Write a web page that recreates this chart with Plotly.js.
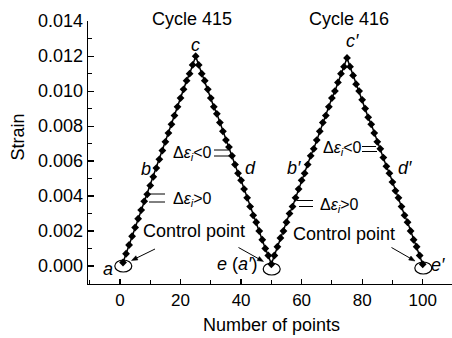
<!DOCTYPE html>
<html>
<head>
<meta charset="utf-8">
<script src="https://cdn.plot.ly/plotly-3.0.1.min.js"></script>
<style>html,body{margin:0;padding:0;background:#fff;}#chart{width:452px;height:338px;}</style>
</head>
<body>
<div id="chart"></div>
<script>
// Point index (Number of points)
const pointIndex = Array.from({length: 100}, (_, i) => i + 1);

// Strain, cycle 415 (points 1-50)
const strainCycle415 = [
  0.0002, 0.0007, 0.0012, 0.0017, 0.0022, 0.0027, 0.0032, 0.0037, 0.0041, 0.0046,
  0.0051, 0.0056, 0.0061, 0.0066, 0.0071, 0.0076, 0.0081, 0.0086, 0.0091, 0.0096,
  0.0101, 0.0106, 0.0110, 0.0115, 0.0120,
  0.0115, 0.0110, 0.0106, 0.0101, 0.0096, 0.0091, 0.0087, 0.0082, 0.0077, 0.0072,
  0.0068, 0.0063, 0.0058, 0.0053, 0.0049, 0.0044, 0.0039, 0.0034, 0.0029, 0.0025,
  0.0020, 0.0015, 0.0010, 0.0006, 0.0001
];
// Strain, cycle 416 (points 51-100)
const strainCycle416 = [
  0.0006, 0.0011, 0.0016, 0.0020, 0.0025, 0.0030, 0.0034, 0.0039, 0.0044, 0.0049,
  0.0053, 0.0058, 0.0063, 0.0067, 0.0072, 0.0077, 0.0082, 0.0086, 0.0091, 0.0096,
  0.0100, 0.0105, 0.0110, 0.0114, 0.0119,
  0.0114, 0.0109, 0.0104, 0.0100, 0.0095, 0.0090, 0.0085, 0.0081, 0.0076, 0.0071,
  0.0067, 0.0062, 0.0057, 0.0053, 0.0048, 0.0043, 0.0039, 0.0034, 0.0029, 0.0025,
  0.0020, 0.0015, 0.0011, 0.0006, 0.0001
];
const strain = strainCycle415.concat(strainCycle416);

const xTickVals = [0, 20, 40, 60, 80, 100];
const yTickVals = [0.000, 0.002, 0.004, 0.006, 0.008, 0.010, 0.012, 0.014];

// ---- layout geometry (pixels) ----
const W = 452, H = 338;
const M = {l: 88, r: 0, t: 21, b: 54};
const PW = W - M.l - M.r, PH = H - M.t - M.b;
const px = x => (x - M.l) / PW;          // pixel -> paper
const py = y => (H - M.b - y) / PH;

const FONT = 'Liberation Sans, Arial, sans-serif';

function txt(text, x, y, size, extra) {
  return Object.assign({
    text: text, xref: 'paper', yref: 'paper', x: px(x), y: py(y),
    xanchor: 'center', yanchor: 'middle', showarrow: false,
    font: {family: FONT, size: size || 18, color: '#000'}
  }, extra || {});
}
const deltaNeg = 'Δ<i>ε</i><sub><i>i</i></sub>&lt;0';
const deltaPos = 'Δ<i>ε</i><sub><i>i</i></sub>&gt;0';

const annotations = [
  txt('Cycle 415', 191.5, 18.5, 18),
  txt('Cycle 416', 349, 18.5, 18),
  txt('<i>c</i>', 195, 45, 18),
  txt('<i>c\u2032</i>', 352, 41, 18),
  txt('<i>b</i>', 146, 169, 18),
  txt('<i>d</i>', 250, 168, 18),
  txt('<i>b\u2032</i>', 294, 168, 18),
  txt('<i>d\u2032</i>', 405, 168, 18),
  txt('<i>a</i>', 108, 269, 18),
  txt('<i>e</i> (<i>a\u2032</i>)', 237, 264, 18),
  txt('<i>e\u2032</i>', 438, 265, 18),
  txt('Control point', 194, 231, 18),
  txt('Control point', 344, 234, 18),
  txt(deltaNeg, 192.5, 153, 16),
  txt(deltaNeg, 342, 148, 16),
  txt(deltaPos, 192, 200, 16),
  txt(deltaPos, 339, 205, 16),
  txt('Strain', 17, 137.5, 18, {textangle: -90}),
  txt('Number of points', 271, 325, 18)
];

function hline(x0, x1, y) {
  return {type: 'line', xref: 'paper', yref: 'paper',
    x0: px(x0), x1: px(x1), y0: py(y), y1: py(y),
    line: {color: '#000', width: 1}};
}
function ell(cx, cy, w, h) {
  return {type: 'circle', xref: 'paper', yref: 'paper',
    x0: px(cx - w / 2), x1: px(cx + w / 2), y0: py(cy + h / 2), y1: py(cy - h / 2),
    line: {color: '#000', width: 1.2}};
}
// arrow from tail (tx,ty) to head (hx,hy), pixel coordinates
function arrowShapes(tx, ty, hx, hy) {
  const dx = hx - tx, dy = hy - ty, len = Math.hypot(dx, dy);
  const ux = dx / len, uy = dy / len, nx = -uy, ny = ux;
  const L = 6, w = 2.3;
  const bx = hx - L * ux, by = hy - L * uy;
  const p = (x, y) => px(x) + ',' + py(y);
  return [
    {type: 'line', xref: 'paper', yref: 'paper',
      x0: px(tx), y0: py(ty), x1: px(bx + 1 * ux), y1: py(by + 1 * uy),
      line: {color: '#000', width: 1}},
    {type: 'path', xref: 'paper', yref: 'paper',
      path: 'M' + p(hx, hy) + 'L' + p(bx + w * nx, by + w * ny) + 'L' + p(bx - w * nx, by - w * ny) + 'Z',
      fillcolor: '#000', line: {color: '#000', width: 0.5}}
  ];
}
const shapes = [
  hline(214, 228, 150), hline(214, 229, 156),
  hline(147, 165, 194), hline(149, 165, 202),
  hline(362, 376, 146.5), hline(362, 377, 151.5),
  hline(297, 313, 200.5), hline(299, 313, 206.5),
  ell(123.3, 266, 17, 12),
  ell(271.7, 269, 17, 12),
  ell(423.3, 268, 17, 12)
].concat(
  arrowShapes(155, 249, 131.5, 260.5),
  arrowShapes(238.5, 247.5, 263.5, 261.5),
  arrowShapes(391.5, 247.5, 415, 261)
);

const trace = {
  x: pointIndex, y: strain, type: 'scatter', mode: 'lines+markers',
  line: {color: '#000', width: 1.5},
  marker: {symbol: 'diamond', size: 6, color: '#000'},
  cliponaxis: false, showlegend: false, hoverinfo: 'skip'
};

const layout = {
  width: W, height: H, margin: M,
  paper_bgcolor: '#fff', plot_bgcolor: '#fff',
  font: {family: FONT, color: '#000'},
  showlegend: false,
  xaxis: {
    range: [-10.57, 109.68], showgrid: false, zeroline: false,
    showline: true, linecolor: '#000', linewidth: 1.3,
    ticks: 'inside', ticklen: 5, tickwidth: 1.2, tickcolor: '#000',
    tickvals: xTickVals, ticktext: xTickVals.map(String),
    tickfont: {family: FONT, size: 17, color: '#000'},
    minor: {dtick: 10, tick0: 0, ticks: 'inside', ticklen: 4, tickwidth: 1.2, tickcolor: '#000', showgrid: false}
  },
  yaxis: {
    range: [-0.00103, 0.01401], showgrid: false, zeroline: false,
    showline: true, linecolor: '#000', linewidth: 1.3,
    ticks: 'inside', ticklen: 6, tickwidth: 1.2, tickcolor: '#000',
    tickvals: yTickVals, ticktext: yTickVals.map(v => v.toFixed(3)),
    tickfont: {family: FONT, size: 18, color: '#000'},
    minor: {dtick: 0.001, tick0: 0, ticks: 'inside', ticklen: 4, tickwidth: 1.2, tickcolor: '#000', showgrid: false}
  },
  annotations: annotations,
  shapes: shapes
};

Plotly.newPlot('chart', [trace], layout, {staticPlot: true, displayModeBar: false});
</script>
</body>
</html>
